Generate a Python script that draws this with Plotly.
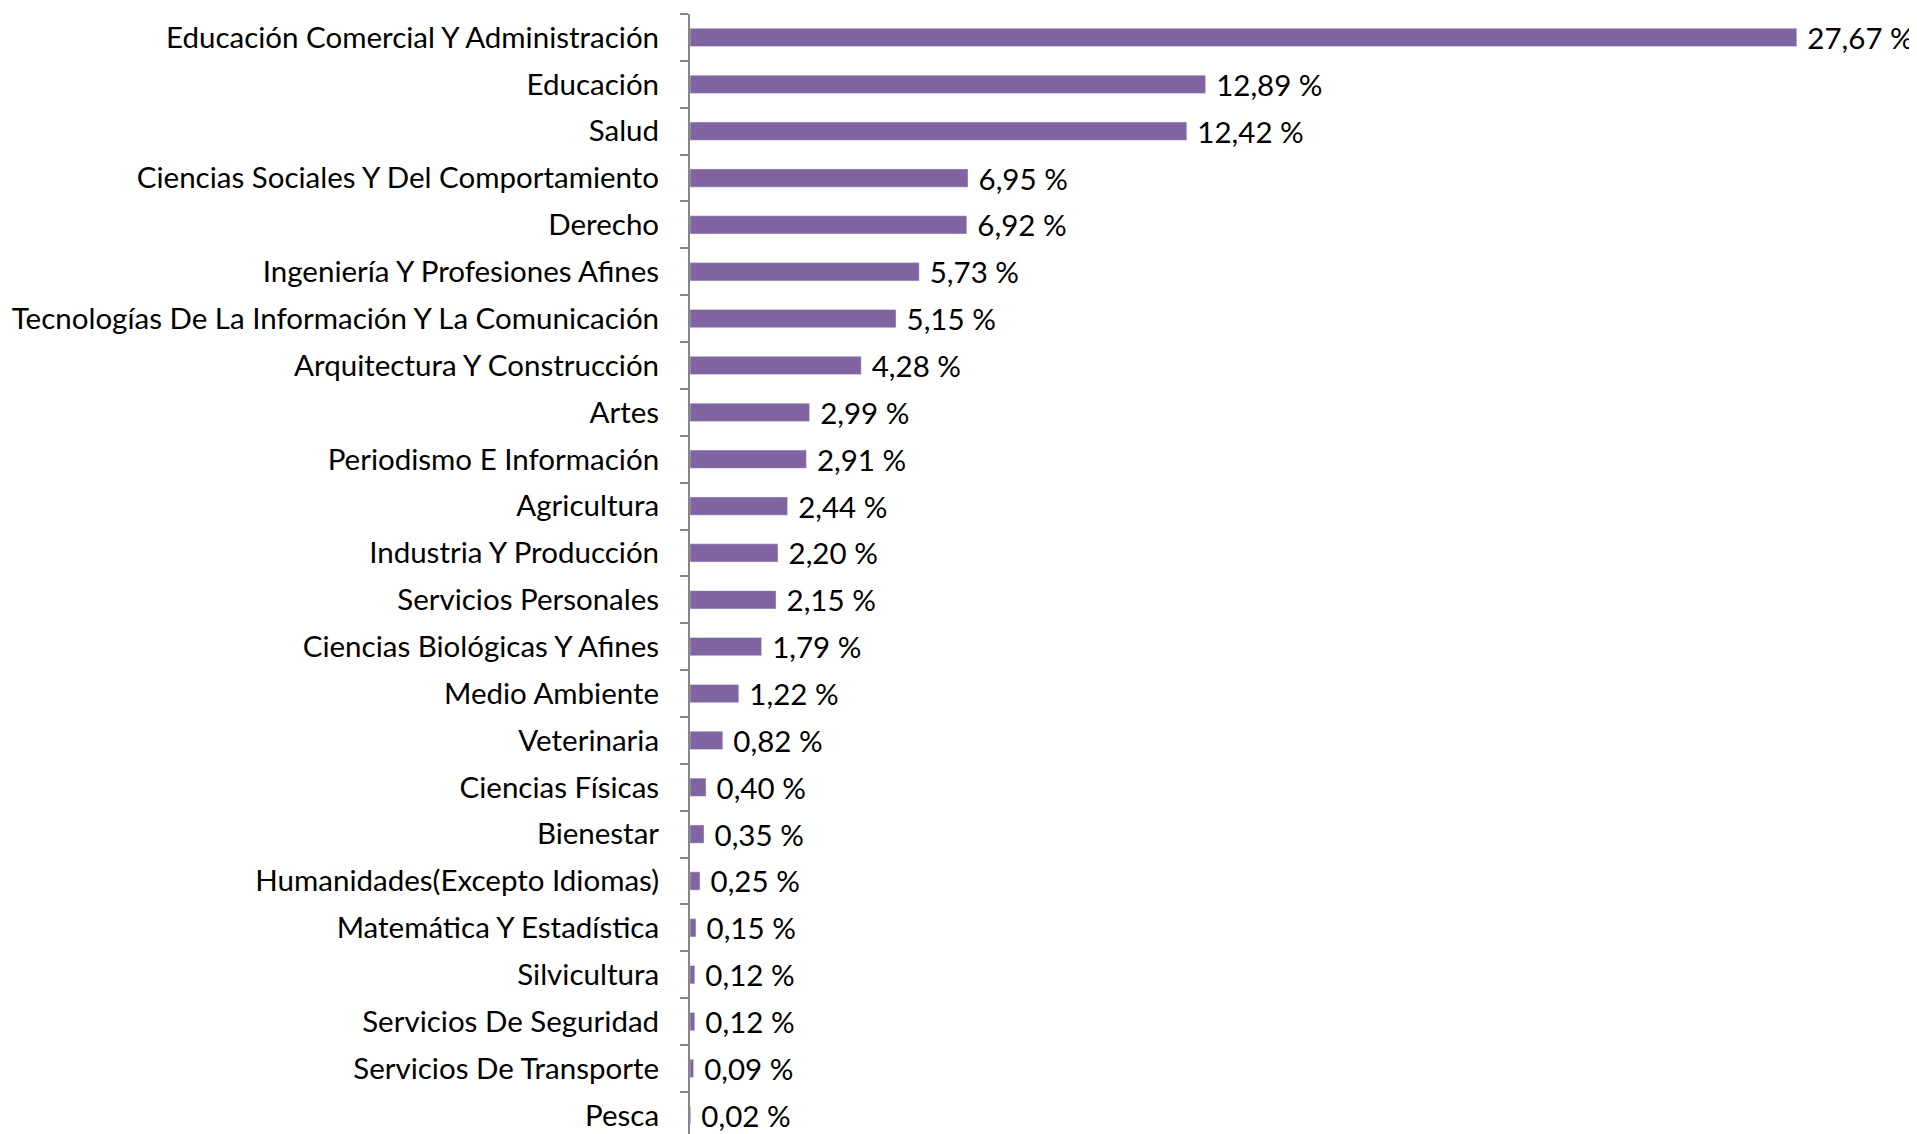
import plotly.graph_objects as go

categorias = [
    "Educación Comercial Y Administración",
    "Educación",
    "Salud",
    "Ciencias Sociales Y Del Comportamiento",
    "Derecho",
    "Ingeniería Y Profesiones Afines",
    "Tecnologías De La Información Y La Comunicación",
    "Arquitectura Y Construcción",
    "Artes",
    "Periodismo E Información",
    "Agricultura",
    "Industria Y Producción",
    "Servicios Personales",
    "Ciencias Biológicas Y Afines",
    "Medio Ambiente",
    "Veterinaria",
    "Ciencias Físicas",
    "Bienestar",
    "Humanidades(Excepto Idiomas)",
    "Matemática Y Estadística",
    "Silvicultura",
    "Servicios De Seguridad",
    "Servicios De Transporte",
    "Pesca",
]
porcentajes = [27.67, 12.89, 12.42, 6.95, 6.92, 5.73, 5.15, 4.28, 2.99, 2.91, 2.44,
               2.20, 2.15, 1.79, 1.22, 0.82, 0.40, 0.35, 0.25, 0.15, 0.12, 0.12, 0.09, 0.02]

FONT = "Lato"
SIZE = 29.5

fig = go.Figure(go.Bar(
    x=porcentajes,
    y=categorias,
    orientation="h",
    width=0.39,
    marker=dict(color="#8064A2"),
    texttemplate="\u00a0%{x:.2f} %",
    textposition="outside",
    constraintext="none",
    textfont=dict(family=FONT, size=SIZE, color="black"),
    cliponaxis=False,
))

fig.update_layout(
    width=1917, height=1134,
    margin=dict(l=682, r=5, t=6, b=0),
    separators=",.",
    plot_bgcolor="white",
    paper_bgcolor="white",
    showlegend=False,
    font=dict(family=FONT, size=SIZE, color="black"),
)
fig.update_xaxes(range=[0, 30.75], visible=False, fixedrange=True)
fig.update_yaxes(
    type="category",
    range=[23.57, -0.5],
    showline=True, linecolor="#868686", linewidth=2,
    ticks="outside", ticklen=8, tickcolor="#868686", tickwidth=2,
    tickson="boundaries",
    ticklabelstandoff=23,
    showgrid=False,
    tickfont=dict(family=FONT, size=SIZE, color="black"),
    automargin=False,
)

fig.write_html("out.html")
